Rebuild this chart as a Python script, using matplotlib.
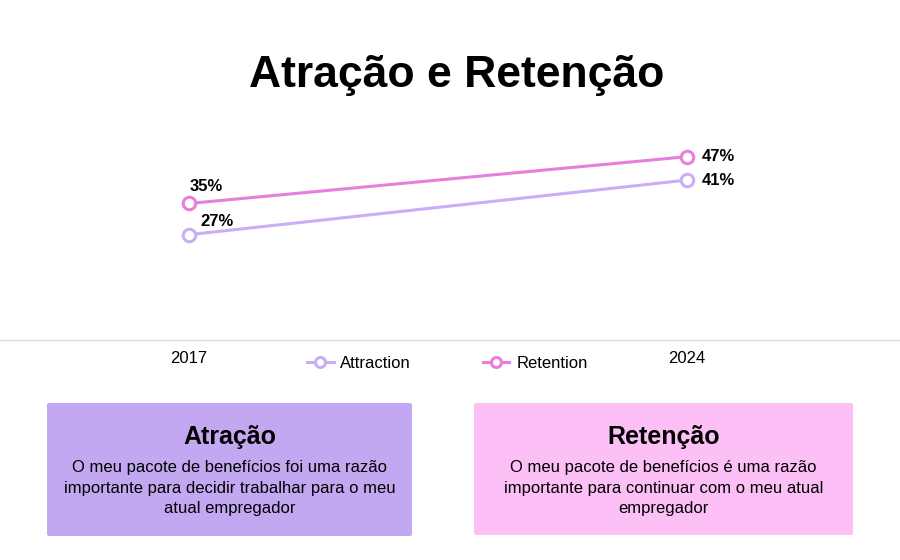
import matplotlib.pyplot as plt
from matplotlib.patches import FancyBboxPatch

plt.rcParams['font.family'] = ['Liberation Sans', 'DejaVu Sans']

years = ['2017', '2024']
attraction = [27, 41]
retention = [35, 47]
series_names = ['Attraction', 'Retention']
title = 'Atração e Retenção'
box_titles = ['Atração', 'Retenção']
box_texts = [
    'O meu pacote de benefícios foi uma razão\nimportante para decidir trabalhar para o meu\natual empregador',
    'O meu pacote de benefícios é uma razão\nimportante para continuar com o meu atual\nempregador',
]

c_attr = '#C9AEF5'
c_ret = '#E67FDC'
box_colors = ['#C2A8F0', '#FDC0F6']

fig = plt.figure(figsize=(9, 5.6), dpi=100)
fig.text(0.507, 1 - 87 / 560, title, ha='center', va='baseline', fontsize=32, fontweight='bold')

# axes: spans full width, y from 120px to 340px
ax = fig.add_axes([0, 1 - 340 / 560, 1, 220 / 560])
x = list(range(len(years)))
ax.plot(x, attraction, color=c_attr, lw=2.2, marker='o', ms=9, mfc='white',
        mec=c_attr, mew=2.2, label=series_names[0])
ax.plot(x, retention, color=c_ret, lw=2.2, marker='o', ms=9, mfc='white',
        mec=c_ret, mew=2.2, label=series_names[1])

ax.set_xlim(-189 / 498, 1 + 213 / 498)
ax.set_ylim(0, 56.4)

# value labels (offsets in pixels)
offsets_attr = [(11, 13), (15, 0)]
offsets_ret = [(1, 17), (15, 0)]
for i in range(len(years)):
    ax.annotate(f'{attraction[i]}%', (x[i], attraction[i]), xytext=offsets_attr[i],
                textcoords='offset pixels', ha='left', va='center', fontsize=12, fontweight='bold')
    ax.annotate(f'{retention[i]}%', (x[i], retention[i]), xytext=offsets_ret[i],
                textcoords='offset pixels', ha='left', va='center', fontsize=12, fontweight='bold')

for s in ['top', 'right', 'left']:
    ax.spines[s].set_visible(False)
ax.spines['bottom'].set_color('#D9D9D9')
ax.spines['bottom'].set_linewidth(1)
ax.set_yticks([])
ax.set_xticks(x)
ax.set_xticklabels(years, fontsize=12)
ax.tick_params(axis='x', length=0, pad=8)
ax.set_facecolor('none')

leg = fig.legend(loc='center', bbox_to_anchor=(0.497, 1 - 363 / 560), ncol=2, frameon=False,
                 fontsize=12, handlelength=1.6, columnspacing=4.3, handletextpad=0.4,
                 markerscale=0.8)

# info boxes
boxes = [(47, 403, 365, 133), (474, 403, 379, 132)]
for (bx, by, bw, bh), col, bt, txt in zip(boxes, box_colors, box_titles, box_texts):
    fx, fy = bx / 900, 1 - (by + bh) / 560
    fw, fh = bw / 900, bh / 560
    fig.patches.append(FancyBboxPatch((fx, fy), fw, fh, boxstyle='round,pad=0,rounding_size=0.003',
                                      transform=fig.transFigure, fc=col, ec='none'))
    cx = fx + fw / 2
    fig.text(cx, 1 - 437 / 560, bt, ha='center', va='center', fontsize=18, fontweight='bold')
    fig.text(cx, 1 - 488 / 560, txt, ha='center', va='center', fontsize=12, linespacing=1.45)

fig.savefig('out.png', dpi=100)
